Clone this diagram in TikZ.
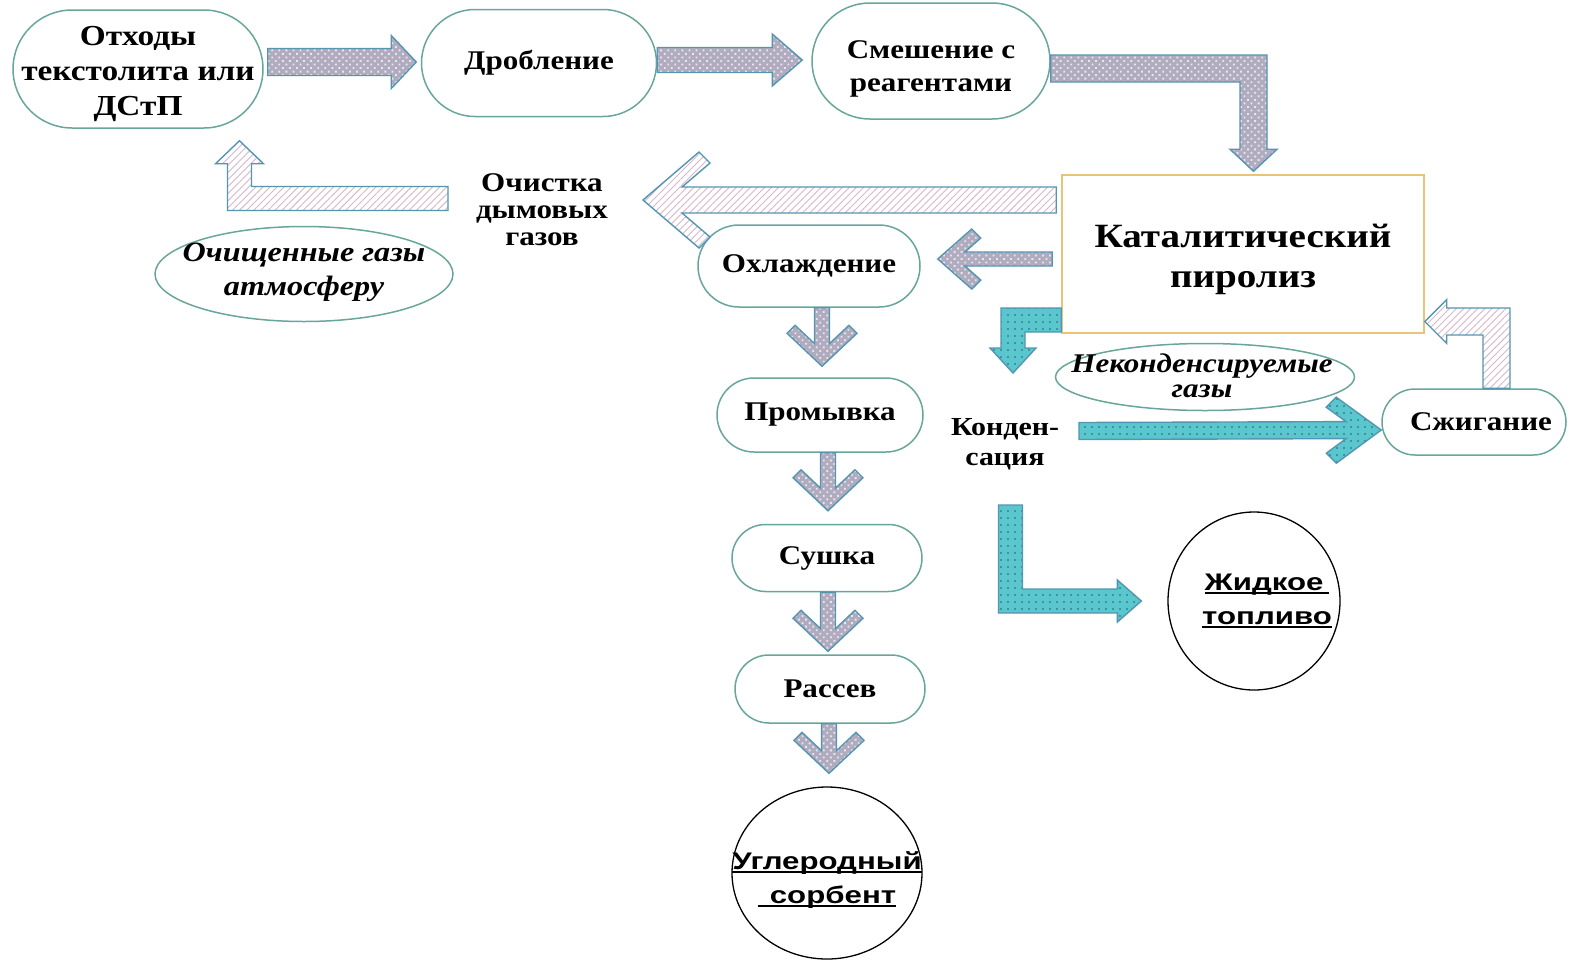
\documentclass[tikz,border=0pt]{standalone}
\usepackage{fontspec}
\setmainfont{Liberation Serif}[FakeStretch=1.15]
\newfontfamily\prodfont{Liberation Sans}[FakeStretch=1.3]
\usetikzlibrary{calc, positioning, shapes.geometric, patterns.meta}

\definecolor{stageline}{RGB}{104,166,156}
\definecolor{reactorline}{RGB}{232,196,120}
\definecolor{arrowline}{RGB}{84,150,178}
\definecolor{meshbase}{RGB}{174,172,190}
\definecolor{meshdot}{RGB}{240,226,236}
\definecolor{hatchline}{RGB}{214,182,202}
\definecolor{tealbase}{RGB}{90,198,206}
\definecolor{tealdot}{RGB}{38,96,108}

\tikzset{
  stage/.style 2 args = {rectangle, draw=stageline, line width=1.5pt, fill=white,
      minimum width=#1, minimum height=#2, rounded corners=0.5*#2,
      inner sep=0pt, align=center, font=\fontsize{27}{34}\selectfont\bfseries},
  stagetext/.style = {align=center, inner sep=0pt, font=\fontsize{27}{34}\selectfont\bfseries},
  reactor/.style = {rectangle, draw=reactorline, line width=1.5pt, fill=white,
      minimum width=362pt, minimum height=158pt, inner sep=0pt},
  bubble/.style 2 args = {ellipse, draw=stageline, line width=1.5pt, fill=white,
      minimum width=#1, minimum height=#2, inner sep=0pt},
  product/.style 2 args = {ellipse, draw=black, line width=1.3pt, fill=white,
      minimum width=#1, minimum height=#2, inner sep=0pt},
  gastext/.style = {align=center, inner sep=0pt, font=\bfseries\itshape},
  prodtext/.style = {align=center, inner sep=0pt, font=\prodfont\fontsize{24}{34}\selectfont\bfseries},
  note/.style = {align=center, inner sep=0pt, font=\fontsize{26}{30}\selectfont\bfseries},
  meshflow/.style = {draw=arrowline, line width=1.4pt, preaction={fill=meshbase},
      pattern={Dots[distance=5pt, angle=45, radius=1.3pt]}, pattern color=meshdot},
  hatchflow/.style = {draw=arrowline, line width=1.4pt, preaction={fill=white},
      pattern={Lines[angle=45, distance=5pt, line width=0.9pt]}, pattern color=hatchline},
  tealflow/.style = {draw=arrowline, line width=1.4pt, preaction={fill=tealbase},
      pattern={Dots[distance=7pt, radius=0.9pt]}, pattern color=tealdot},
}

% underlined product names
\newsavebox{\undlbox}
\newcommand{\undl}[1]{\sbox{\undlbox}{#1}\rlap{\rule[-4pt]{\wd\undlbox}{2.2pt}}\usebox{\undlbox}}

% straight block arrow: style, tail, tip, half shaft, head length, half head
\newcommand{\flowarrow}[6]{%
  \coordinate (fa-t) at (#2);
  \coordinate (fa-h) at (#3);
  \coordinate (fa-b) at ($(fa-h)!#5pt!(fa-t)$);
  \draw[#1] ($(fa-t)!#4pt!90:(fa-h)$) -- ($(fa-b)!#4pt!-90:(fa-t)$)
    -- ($(fa-b)!#6pt!-90:(fa-t)$) -- (fa-h) -- ($(fa-b)!#6pt!90:(fa-t)$)
    -- ($(fa-b)!#4pt!90:(fa-t)$) -- ($(fa-t)!#4pt!-90:(fa-h)$) -- cycle;
}

% block arrow with a chevron head: style, tail, tip, half shaft, head length, half head, arm
\newcommand{\chevarrow}[7]{%
  \pgfmathsetmacro{\chj}{#7*(1+#5/#6)+#4*#5/#6}%
  \pgfmathsetmacro{\chvi}{#5+#7}%
  \pgfmathsetmacro{\chvw}{#6-#7}%
  \coordinate (ca-t) at (#2);
  \coordinate (ca-h) at (#3);
  \coordinate (ca-j) at ($(ca-h)!\chj pt!(ca-t)$);
  \coordinate (ca-c) at ($(ca-h)!#5pt!(ca-t)$);
  \coordinate (ca-i) at ($(ca-h)!\chvi pt!(ca-t)$);
  \draw[#1] ($(ca-t)!#4pt!90:(ca-h)$) -- ($(ca-j)!#4pt!-90:(ca-t)$)
    -- ($(ca-i)!\chvw pt!-90:(ca-t)$) -- ($(ca-c)!#6pt!-90:(ca-t)$) -- (ca-h)
    -- ($(ca-c)!#6pt!90:(ca-t)$) -- ($(ca-i)!\chvw pt!90:(ca-t)$)
    -- ($(ca-j)!#4pt!90:(ca-t)$) -- ($(ca-t)!#4pt!-90:(ca-h)$) -- cycle;
}

% block arrow with one right-angle bend: style, tail, bend, tip, half shaft, head length, half head
\newcommand{\bentarrow}[7]{%
  \coordinate (ba-t) at (#2);
  \coordinate (ba-c) at (#3);
  \coordinate (ba-h) at (#4);
  \coordinate (ba-b) at ($(ba-h)!#6pt!(ba-c)$);
  \coordinate (ba-p) at ($(ba-c)!#5pt!-90:(ba-t)$);
  \coordinate (ba-q) at ($(ba-c)!#5pt!90:(ba-h)$);
  \coordinate (ba-l) at ($(ba-p)+(ba-q)-(ba-c)$);
  \coordinate (ba-p) at ($(ba-c)!#5pt!90:(ba-t)$);
  \coordinate (ba-q) at ($(ba-c)!#5pt!-90:(ba-h)$);
  \coordinate (ba-r) at ($(ba-p)+(ba-q)-(ba-c)$);
  \draw[#1] ($(ba-t)!#5pt!90:(ba-c)$) -- (ba-l) -- ($(ba-b)!#5pt!-90:(ba-c)$)
    -- ($(ba-b)!#7pt!-90:(ba-c)$) -- (ba-h) -- ($(ba-b)!#7pt!90:(ba-c)$)
    -- ($(ba-b)!#5pt!90:(ba-c)$) -- (ba-r) -- ($(ba-t)!#5pt!-90:(ba-c)$) -- cycle;
}

\begin{document}
\begin{tikzpicture}[x=1pt, y=1pt]
  \useasboundingbox (0,0) rectangle (1569,-959);
  \fill[white] (0,0) rectangle (1569,-959);

  % process stages
  \node[stage={250pt}{118pt}] (otx) at (138,-69) {};
  \node[stagetext, font=\fontsize{29}{35}\selectfont\bfseries] (otx-txt) at ([yshift=-5pt]otx) {Отходы\\текстолита или\\ДСтП};
  \node[stage={235pt}{107pt}] (drob) at (539,-63) {Дробление};
  \node[stage={238pt}{116pt}] (smesh) at (931,-61) {};
  \node[stagetext, font=\fontsize{27}{33}\selectfont\bfseries] (smesh-txt) at ([yshift=-8pt]smesh) {Смешение с\\реагентами};
  \node[reactor] (pyro) at (1243,-254) {};
  \node[stagetext, font=\fontsize{34}{40}\selectfont\bfseries] (pyro-txt) at ([yshift=-5.5pt]pyro) {Каталитический\\пиролиз};
  \node[note, font=\fontsize{27}{27}\selectfont\bfseries] (ochist) at (542,-210) {Очистка\\дымовых\\газов};
  \node[bubble={298pt}{95pt}] (clean) at (304,-274) {};
  \node[gastext, font=\fontsize{28}{34}\selectfont\bfseries\itshape] (clean-txt) at ([yshift=2pt]clean) {Очищенные газы\\атмосферу};
  \node[stage={222pt}{82pt}] (ohl) at (809,-266) {Охлаждение};
  \node[stage={206pt}{74pt}] (prom) at (820,-415) {Промывка};
  \node[stage={190pt}{67pt}] (sush) at (827,-558) {Сушка};
  \node[stage={190pt}{68pt}] (rass) at (830,-689) {Рассев};
  \node[product={190pt}{172pt}] (ugl) at (827,-873) {};
  \node[prodtext] (ugl-txt) at ([yshift=-7pt]ugl) {\undl{Углеродный}\\\undl{\hspace{12pt}сорбент}};
  \node[note] (konden) at (1005,-444) {Конден-\\сация};
  \node[bubble={299pt}{67pt}] (nekond) at (1205,-377) {};
  \node[gastext, font=\fontsize{27}{25}\selectfont\bfseries\itshape] (nekond-txt) at ([xshift=-3pt,yshift=1pt]nekond) {Неконденсируемые\\газы};
  \node[stage={184pt}{66pt}] (szhig) at (1474,-422) {};
  \node[stagetext] (szhig-txt) at ([xshift=7pt]szhig) {Сжигание};
  \node[product={172pt}{178pt}] (fuel) at (1254,-601) {};
  \node[prodtext] (fuel-txt) at ([xshift=13pt]fuel) {\undl{Жидкое\hspace{6pt}}\\\undl{топливо}};

  % free arrow ends
  \coordinate (smokeend) at (643,-200);
  \coordinate (cleanstart) at (448,-198.5);
  \coordinate (condtop) at (1013,-373);
  \coordinate (condstart) at (1079,-431);
  \coordinate (condbot) at (1010.5,-505);

  % main line
  \flowarrow{meshflow}{[xshift=4pt,yshift=7pt]otx.east}{[xshift=-4.5pt,yshift=1pt]drob.west}{13.5}{25}{26.5}
  \flowarrow{meshflow}{[yshift=3pt]drob.east}{[xshift=-9pt,yshift=1pt]smesh.west}{12.5}{30}{26}
  \coordinate (a3t) at ([yshift=-7.5pt]smesh.east);
  \coordinate (a3h) at ([xshift=10.5pt,yshift=3pt]pyro.north);
  \bentarrow{meshflow}{a3t}{a3h |- a3t}{a3h}{13.5}{22}{23.5}

  % flue gases
  \chevarrow{hatchflow}{[xshift=-5pt,yshift=54pt]pyro.west}{smokeend}{13}{56}{48}{11}
  \coordinate (a5h) at ([xshift=101.5pt,yshift=-12pt]otx.south);
  \bentarrow{hatchflow}{cleanstart}{a5h |- cleanstart}{a5h}{12}{23}{24}

  % solid residue
  \chevarrow{meshflow}{[xshift=-9pt,yshift=-5pt]pyro.west}{[xshift=17pt,yshift=7pt]ohl.east}{7}{34}{30}{9}
  \chevarrow{meshflow}{[xshift=13pt]ohl.south}{[xshift=2pt,yshift=11pt]prom.north}{7.5}{33}{35}{8}
  \chevarrow{meshflow}{[xshift=8pt]prom.south}{[xshift=1pt,yshift=13pt]sush.north}{7.5}{33}{35}{8}
  \chevarrow{meshflow}{[xshift=1pt]sush.south}{[xshift=-2pt,yshift=3pt]rass.north}{7.5}{33}{35}{8}
  \chevarrow{meshflow}{[xshift=-1pt]rass.south}{[xshift=2pt,yshift=13pt]ugl.north}{7.5}{33}{35}{8}

  % vapours
  \coordinate (a7t) at ([yshift=-66pt]pyro.west);
  \bentarrow{tealflow}{a7t}{condtop |- a7t}{condtop}{12}{25}{23}
  \chevarrow{tealflow}{condstart}{[yshift=-8pt]szhig.west}{8.5}{45}{33}{10}
  \coordinate (a9h) at ([xshift=-26pt]fuel.west);
  \bentarrow{tealflow}{condbot}{condbot |- a9h}{a9h}{12}{24}{21}
  \coordinate (a10t) at ([xshift=22.5pt]szhig.north);
  \coordinate (a10h) at ([yshift=-67.5pt]pyro.east);
  \bentarrow{hatchflow}{a10t}{a10t |- a10h}{a10h}{13.5}{22}{22}
\end{tikzpicture}
\end{document}
